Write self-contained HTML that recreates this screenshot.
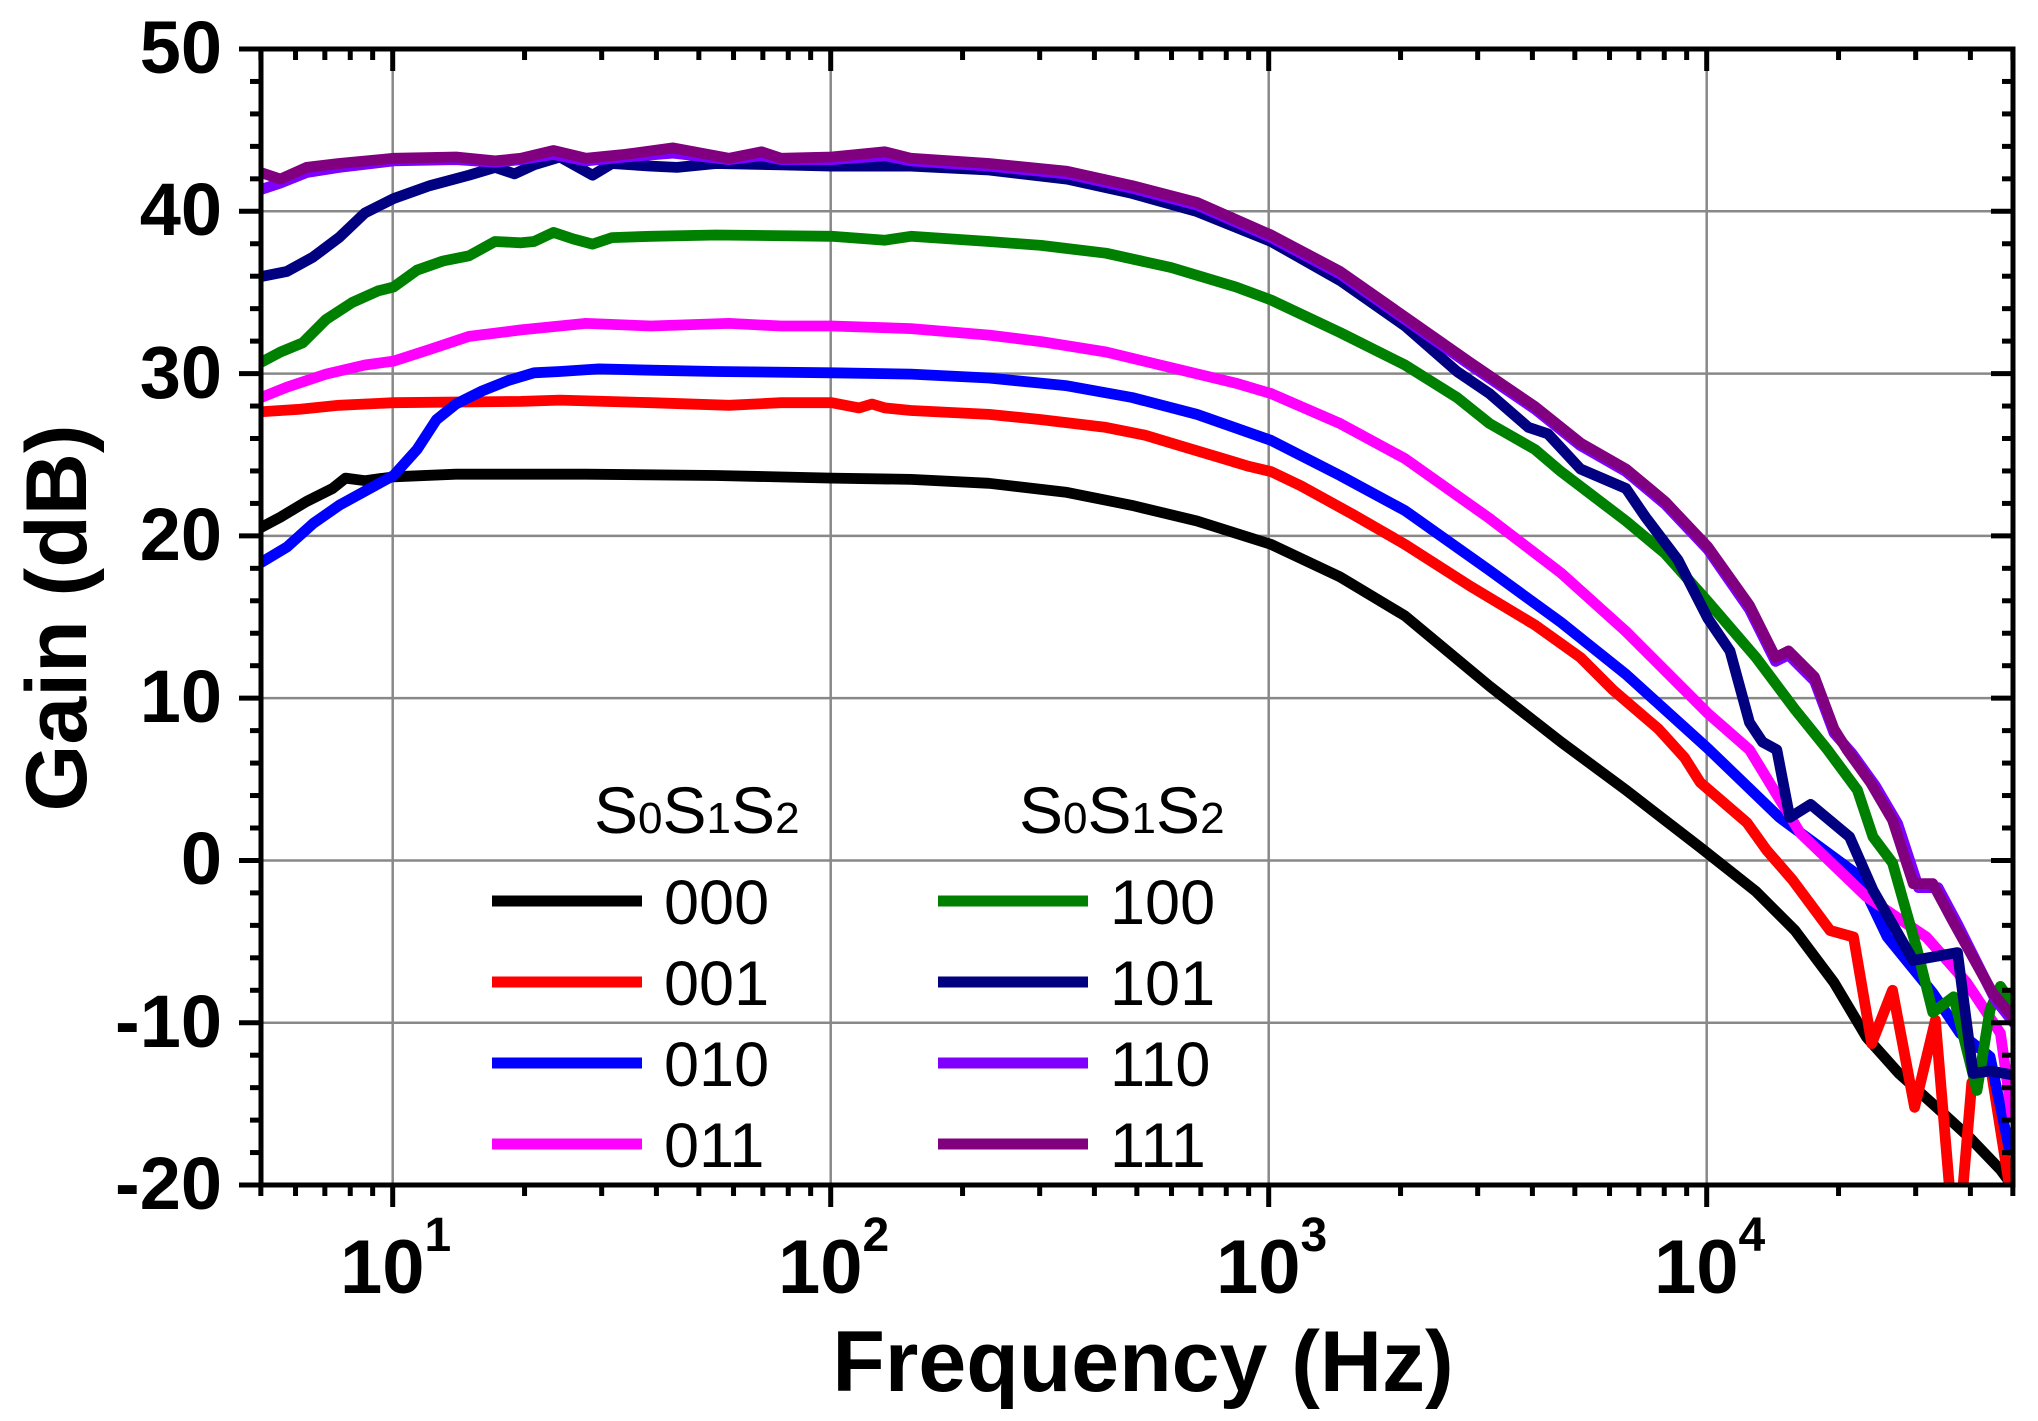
<!DOCTYPE html>
<html><head><meta charset="utf-8">
<style>html,body{margin:0;padding:0;background:#fff;}svg{display:block;}</style>
</head><body>
<svg id="s" xmlns="http://www.w3.org/2000/svg" width="2038" height="1421" viewBox="0 0 2038 1421">
<rect width="2038" height="1421" fill="#fff"/>
<defs><clipPath id="cp"><rect x="261" y="49" width="1752" height="1136"/></clipPath></defs>
<g id="grid" stroke="#888" stroke-width="2.5"></g>
<g font-family="Liberation Sans, Arial, sans-serif" font-size="63" fill="#000">
  <text x="594" y="833" font-size="66">S<tspan font-size="44">0</tspan>S<tspan font-size="44">1</tspan>S<tspan font-size="44">2</tspan></text>
  <text x="1019" y="833" font-size="66">S<tspan font-size="44">0</tspan>S<tspan font-size="44">1</tspan>S<tspan font-size="44">2</tspan></text>
  <text x="664" y="924">000</text>
  <text x="664" y="1005">001</text>
  <text x="664" y="1086">010</text>
  <text x="664" y="1167">011</text>
  <text x="1110" y="924">100</text>
  <text x="1110" y="1005">101</text>
  <text x="1110" y="1086">110</text>
  <text x="1110" y="1167">111</text>
</g>
<g stroke-width="11">
  <line x1="492" x2="642" y1="901" y2="901" stroke="#000"/>
  <line x1="492" x2="642" y1="982" y2="982" stroke="#f00"/>
  <line x1="492" x2="642" y1="1063" y2="1063" stroke="#00f"/>
  <line x1="492" x2="642" y1="1144" y2="1144" stroke="#f0f"/>
  <line x1="938" x2="1088" y1="901" y2="901" stroke="#008000"/>
  <line x1="938" x2="1088" y1="982" y2="982" stroke="#000080"/>
  <line x1="938" x2="1088" y1="1063" y2="1063" stroke="#8000ff"/>
  <line x1="938" x2="1088" y1="1144" y2="1144" stroke="#800080"/>
</g>
<g clip-path="url(#cp)"><g id="data" transform="matrix(1.3 0 0 1.3 1 1)" fill="none" stroke-width="8.3" stroke-linejoin="round" stroke-linecap="round"></g></g>
<g id="axes" stroke="#000"></g>
<g font-family="Liberation Sans, Arial, sans-serif" font-weight="bold" font-size="74" fill="#000" text-anchor="end">
  <text x="222" y="73">50</text>
  <text x="222" y="235">40</text>
  <text x="222" y="398">30</text>
  <text x="222" y="560">20</text>
  <text x="222" y="722">10</text>
  <text x="222" y="884">0</text>
  <text x="222" y="1047">-10</text>
  <text x="222" y="1209">-20</text>
</g>
<g font-family="Liberation Sans, Arial, sans-serif" font-weight="bold" font-size="76" fill="#000">
  <text x="340" y="1293">10<tspan font-size="48" dy="-42">1</tspan></text>
  <text x="778" y="1293">10<tspan font-size="48" dy="-42">2</tspan></text>
  <text x="1216" y="1293">10<tspan font-size="48" dy="-42">3</tspan></text>
  <text x="1654" y="1293">10<tspan font-size="48" dy="-42">4</tspan></text>
</g>
<text x="1143" y="1391" text-anchor="middle" font-family="Liberation Sans, Arial, sans-serif" font-weight="bold" font-size="86">Frequency (Hz)</text>
<text transform="translate(86,618) rotate(-90)" text-anchor="middle" font-family="Liberation Sans, Arial, sans-serif" font-weight="bold" font-size="86">Gain (dB)</text>
</svg>
<script>
(function(){
var NS="http://www.w3.org/2000/svg";
function el(p,t,a){var e=document.createElementNS(NS,t);for(var k in a)e.setAttribute(k,a[k]);p.appendChild(e);return e;}
var L=261,R=2013,T=49,B=1185;
function X(lf){return 392.7+(lf-1)*438;}
function Y(v){return 49+(50-v)*16.229;}
var g=document.getElementById('grid'),ax=document.getElementById('axes');
for(var d=1;d<=4;d++)el(g,'line',{x1:X(d),x2:X(d),y1:T,y2:B});
for(var v=-10;v<=40;v+=10)el(g,'line',{x1:L,x2:R,y1:Y(v),y2:Y(v)});
for(var d=0;d<=4;d++)for(var m=1;m<=9;m++){var lf=d+Math.log10(m);if(lf<Math.log10(5)-1e-6||lf>Math.log10(5e4)+1e-6)continue;var x=X(lf);var len=(m==1)?22:11;
 el(ax,'line',{x1:x,x2:x,y1:B,y2:B+len,'stroke-width':5});
 el(ax,'line',{x1:x,x2:x,y1:T,y2:T+len,'stroke-width':5});}
for(var v=-20;v<=50;v+=2){var y=Y(v);var len=(v%10==0)?22:11;
 el(ax,'line',{x1:L-len,x2:L,y1:y,y2:y,'stroke-width':5});
 el(ax,'line',{x1:R-len,x2:R,y1:y,y2:y,'stroke-width':5});}
el(ax,'rect',{x:L,y:T,width:R-L,height:B-T,fill:'none','stroke-width':5});
var S=[
['#000',[200,405,215,397,235,385,255,375,265,367,280,369,302,366,350,364,450,364,550,365,639,367,700,368,760,371,820,378,870,388,920,400,977,418,1030,443,1080,473,1145,527,1200,570,1250,607,1307,651,1350,685,1380,715,1410,755,1435,797,1460,825,1490,852,1515,875,1538,899,1550,915]],
['#f00',[200,316,230,314,260,311,302,309,400,308,430,307,500,309,560,311,600,309,639,309,660,313,670,310,680,313,700,315,760,318,800,322,850,328,880,334,910,343,940,352,960,358,977,362,1000,373,1040,395,1080,418,1130,450,1180,480,1215,505,1240,530,1275,560,1295,582,1307,601,1343,632,1358,653,1378,676,1407,715,1425,720,1439,802,1455,761,1472,851,1488,784,1499,915,1509,915,1516,832,1530,817,1545,912]],
['#00f',[200,432,220,420,240,402,260,388,280,377,302,365,320,345,335,322,350,310,370,300,390,292,410,286,430,285,460,283,500,284,550,285,639,286,700,287,760,290,820,296,870,305,920,318,977,338,1030,365,1080,392,1145,438,1200,478,1250,518,1313,575,1368,628,1428,672,1451,720,1486,763,1507,794,1530,812,1545,884]],
['#f0f',[200,305,220,297,250,287,280,280,302,277,330,268,360,258,400,253,450,248,500,250,560,248,600,250,639,250,700,252,760,257,800,262,850,270,900,282,950,294,977,302,1030,325,1080,352,1145,398,1200,440,1250,485,1313,548,1345,576,1384,640,1435,689,1481,720,1512,755,1538,794,1547,858]],
['#008000',[200,278,215,270,232,263,250,245,270,232,290,223,302,220,320,207,340,200,360,196,380,185,400,186,410,185,425,178,440,183,455,187,470,182,500,181,550,180,639,181,680,184,700,181,760,185,800,188,850,194,900,205,950,220,977,230,1030,255,1080,280,1120,305,1145,325,1180,345,1200,362,1250,400,1280,425,1313,462,1350,505,1380,545,1405,576,1428,607,1440,643,1455,663,1474,730,1486,778,1502,766,1520,838,1530,776,1538,758,1547,771]],
['#000080',[200,212,220,208,240,197,260,182,280,163,302,152,330,142,360,134,380,128,395,133,410,126,430,120,455,134,470,125,500,127,520,128,550,125,600,126,639,127,700,127,760,130,820,137,870,148,920,162,977,185,1030,215,1080,250,1120,285,1145,302,1175,328,1190,333,1215,360,1250,375,1265,397,1290,430,1313,475,1330,500,1345,555,1355,570,1366,576,1376,628,1392,618,1422,643,1440,684,1471,738,1505,732,1517,825,1530,823,1547,826]],
['#8000ff',[200,145,215,140,235,132,260,128,302,123,350,122,380,124,400,122,425,118,450,123,480,120,517,117,560,122,585,119,600,122,639,122,680,119,700,123,760,127,820,133,870,144,920,157,977,182,1030,210,1080,245,1130,280,1180,314,1215,342,1250,362,1280,387,1313,422,1345,468,1365,508,1375,503,1395,523,1410,563,1424,579,1442,604,1459,633,1475,682,1490,682,1505,710,1534,768,1549,787]],
['#800080',[200,132,215,137,235,128,260,125,302,121,350,120,380,123,400,121,425,115,450,121,480,118,517,113,560,121,585,116,600,121,639,120,680,116,700,121,760,125,820,131,870,142,920,155,977,180,1030,208,1080,243,1130,278,1180,312,1215,340,1250,360,1280,385,1313,420,1345,465,1365,505,1375,500,1395,520,1410,560,1420,576,1438,601,1455,630,1471,679,1486,679,1501,707,1532,763,1547,781]]
];
var dg=document.getElementById('data');
S.forEach(function(s){var p=s[1],d='M'+p[0]+' '+p[1];for(var i=2;i<p.length;i+=2)d+=' L'+p[i]+' '+p[i+1];el(dg,'path',{d:d,stroke:s[0]});});
})();
</script>
</body></html>
